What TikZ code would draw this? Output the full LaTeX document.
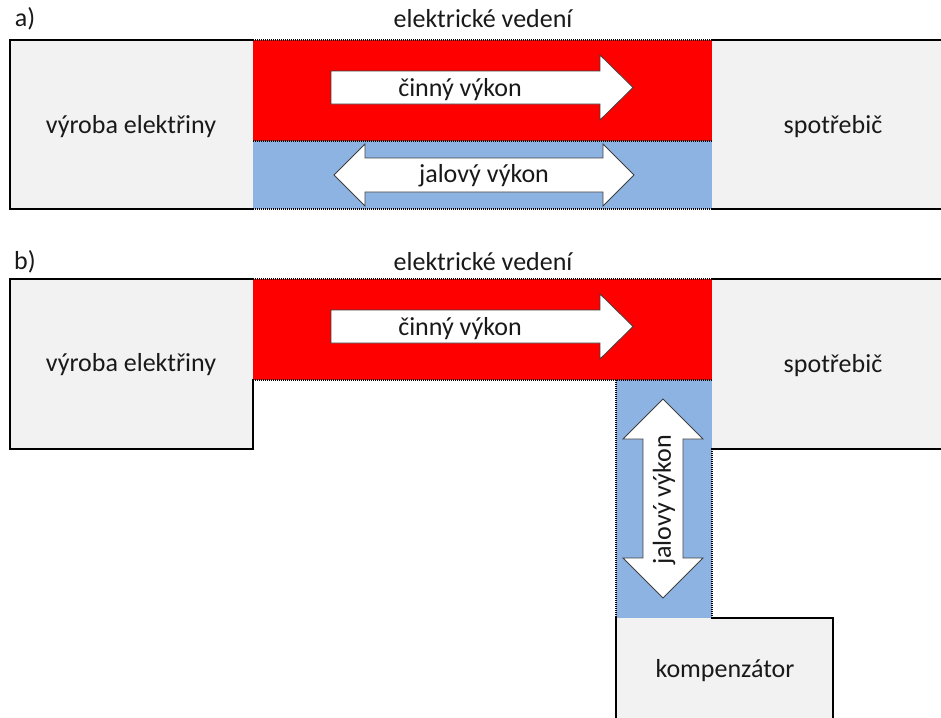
\documentclass[tikz,border=0pt]{standalone}
\usepackage{fontspec}
\setmainfont{Carlito}
\definecolor{boxgray}{HTML}{F2F2F2}
\definecolor{linered}{HTML}{FF0000}
\definecolor{lineblue}{HTML}{8DB3E2}
\definecolor{arrowedge}{HTML}{404040}
\begin{document}
\begin{tikzpicture}[x=1pt,y=-1pt,
  solidedge/.style={draw=black,line width=2pt,line cap=rect},
  dotedge/.style={draw=black,line width=2pt,dash pattern=on 1pt off 1pt},
  arrowshape/.style={fill=white,draw=arrowedge,line width=0.8pt,line join=miter},
  lbl/.style={font=\fontsize{26}{30}\selectfont,inner sep=0pt,text=black!90}]
\useasboundingbox (0,0) rectangle (941,717);
% ---------- a) ----------
\fill[boxgray] (10,40) rectangle (253,209);
\fill[boxgray] (712,40) rectangle (941,209);
\fill[linered] (253,40) rectangle (712,141);
\fill[lineblue] (253,141) rectangle (712,209);
\draw[solidedge] (253,40) -- (10,40) -- (10,209) -- (253,209);
\draw[solidedge] (712,40) -- (945,40);
\draw[solidedge] (712,209) -- (945,209);
\draw[dotedge] (253,40) -- (712,40);
\draw[dotedge] (253,141) -- (712,141);
\draw[dotedge] (253,209) -- (712,209);
% arrows a
\draw[arrowshape] (331,71) -- (600,71) -- (600,55) -- (633,87.5) -- (600,120) -- (600,104) -- (331,104) -- cycle;
\draw[arrowshape] (334,175) -- (365,144) -- (365,158) -- (603,158) -- (603,144) -- (634,175) -- (603,206) -- (603,192) -- (365,192) -- (365,206) -- cycle;
\node[lbl] (la) at (25,19) {a)};
\node[lbl] (veda) at (483,19) {elektrické vedení};
\node[lbl] (vyra) at (131,127) {výroba elektřiny};
\node[lbl] (spoa) at (833,127) {spotřebič};
\node[lbl] (cina) at (460,90) {činný výkon};
\node[lbl] (jala) at (484,176) {jalový výkon};
% ---------- b) ----------
\fill[boxgray] (10,279) rectangle (253,449);
\fill[boxgray] (712,279) rectangle (941,449);
\fill[boxgray] (616,618) rectangle (833,720);
\fill[linered] (253,279) rectangle (712,380);
\fill[lineblue] (616,380) rectangle (712,618);
\draw[solidedge] (253,279) -- (10,279) -- (10,449) -- (253,449) -- (253,380);
\draw[solidedge] (712,279) -- (945,279);
\draw[solidedge] (712,449) -- (945,449);
\draw[solidedge] (616,720) -- (616,618);
\draw[solidedge] (712,618) -- (833,618) -- (833,720);
\draw[dotedge] (253,279) -- (712,279);
\draw[dotedge] (253,380) -- (712,380);
\draw[dotedge] (616,380) -- (616,618);
\draw[dotedge] (712,449) -- (712,618);
% arrows b
\draw[arrowshape] (331,310) -- (600,310) -- (600,294) -- (633,326.5) -- (600,359) -- (600,343) -- (331,343) -- cycle;
\draw[arrowshape] (663,399) -- (703,439) -- (683,439) -- (683,558) -- (703,558) -- (663,598) -- (623,558) -- (643,558) -- (643,439) -- (623,439) -- cycle;
\node[lbl] (lb) at (25,262) {b)};
\node[lbl] (vedb) at (483,262) {elektrické vedení};
\node[lbl] (vyrb) at (131,365) {výroba elektřiny};
\node[lbl] (spob) at (833,366) {spotřebič};
\node[lbl] (cinb) at (460,329) {činný výkon};
\node[lbl,rotate=90] (jalb) at (664,500) {jalový výkon};
\node[lbl] (komp) at (725,671) {kompenzátor};
\end{tikzpicture}
\end{document}
